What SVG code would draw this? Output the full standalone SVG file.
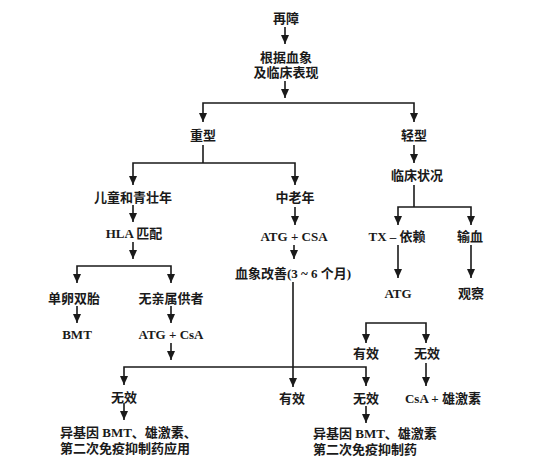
<svg xmlns="http://www.w3.org/2000/svg" width="557" height="466" viewBox="0 0 557 466">
<style>
text{font-family:"Liberation Serif","Noto Sans CJK SC",serif;font-size:13px;font-weight:bold;fill:#1a1a1a;text-anchor:middle}
.l{text-anchor:start}
.c line,.c polyline{stroke:#1a1a1a;stroke-width:1.6;fill:none}
</style>
<defs>
<marker id="a" markerUnits="userSpaceOnUse" markerWidth="9" markerHeight="8" refX="9" refY="4" orient="auto-start-reverse" viewBox="0 0 9 8">
<path d="M0,0L9,4L0,8z" fill="#1a1a1a"/>
</marker>
</defs>
<rect width="557" height="466" fill="#fff"/>
<g class="c">
<line x1="285" y1="27" x2="285" y2="44" marker-end="url(#a)"/>
<line x1="285" y1="81" x2="285" y2="98" marker-end="url(#a)"/>
<polyline points="203,122 203,103 414,103 414,122" marker-start="url(#a)" marker-end="url(#a)"/>
<line x1="203" y1="145" x2="203" y2="163"/>
<polyline points="133,185 133,163 295,163 295,185" marker-start="url(#a)" marker-end="url(#a)"/>
<line x1="414" y1="145" x2="414" y2="163" marker-end="url(#a)"/>
<line x1="133" y1="205" x2="133" y2="222" marker-end="url(#a)"/>
<line x1="133" y1="242" x2="133" y2="259" marker-end="url(#a)"/>
<polyline points="77,283 77,266 171,266 171,283" marker-start="url(#a)" marker-end="url(#a)"/>
<line x1="77" y1="306" x2="77" y2="323" marker-end="url(#a)"/>
<line x1="171" y1="306" x2="171" y2="323" marker-end="url(#a)"/>
<line x1="295" y1="207" x2="295" y2="225" marker-end="url(#a)"/>
<line x1="294" y1="245" x2="294" y2="259" marker-end="url(#a)"/>
<line x1="293" y1="282" x2="293" y2="387" marker-end="url(#a)"/>
<line x1="414" y1="185" x2="414" y2="207"/>
<polyline points="398,225 398,207 471,207 471,225" marker-start="url(#a)" marker-end="url(#a)"/>
<line x1="398" y1="245" x2="398" y2="278" marker-end="url(#a)"/>
<line x1="471" y1="245" x2="471" y2="278" marker-end="url(#a)"/>
<polyline points="366,343 366,323 426,323 426,343" marker-start="url(#a)" marker-end="url(#a)"/>
<line x1="426" y1="363" x2="426" y2="386" marker-end="url(#a)"/>
<line x1="171" y1="343" x2="171" y2="360" marker-end="url(#a)"/>
<polyline points="124,385 124,367 366,367 366,386" marker-start="url(#a)" marker-end="url(#a)"/>
<line x1="124" y1="403" x2="124" y2="420" marker-end="url(#a)"/>
<line x1="366" y1="406" x2="366" y2="423" marker-end="url(#a)"/>
</g>
<g id="n1"><text x="286" y="23">再障</text></g>
<g id="n2"><text x="286" y="62">根据血象</text><text x="286" y="77">及临床表现</text></g>
<g id="n3"><text x="203" y="140">重型</text></g>
<g id="n4"><text x="414" y="140">轻型</text></g>
<g id="n5"><text x="133" y="202">儿童和青壮年</text></g>
<g id="n6"><text x="134" y="238">HLA 匹配</text></g>
<g id="n7"><text x="74" y="303">单卵双胎</text></g>
<g id="n8"><text x="171" y="303">无亲属供者</text></g>
<g id="n9"><text x="77" y="339">BMT</text></g>
<g id="n10"><text x="171" y="339">ATG + CsA</text></g>
<g id="n11"><text x="295" y="202">中老年</text></g>
<g id="n12"><text x="294" y="241">ATG + CSA</text></g>
<g id="n13"><text x="293" y="278">血象改善(3 ~ 6 个月)</text></g>
<g id="n14"><text x="417" y="180">临床状况</text></g>
<g id="n15"><text x="397" y="241">TX – 依赖</text></g>
<g id="n16"><text x="470" y="241">输血</text></g>
<g id="n17"><text x="398" y="298">ATG</text></g>
<g id="n18"><text x="471" y="298">观察</text></g>
<g id="n19"><text x="366" y="358">有效</text></g>
<g id="n20"><text x="427" y="358">无效</text></g>
<g id="n21"><text x="443" y="403">CsA + 雄激素</text></g>
<g id="n22"><text x="124" y="402">无效</text></g>
<g id="n23"><text class="l" x="60" y="437">异基因 BMT、雄激素、</text><text class="l" x="60" y="453">第二次免疫抑制药应用</text></g>
<g id="n24"><text x="292" y="403">有效</text></g>
<g id="n25"><text x="366" y="403">无效</text></g>
<g id="n26"><text class="l" x="313" y="438">异基因 BMT、雄激素</text><text class="l" x="313" y="454">第二次免疫抑制药</text></g>
</svg>
